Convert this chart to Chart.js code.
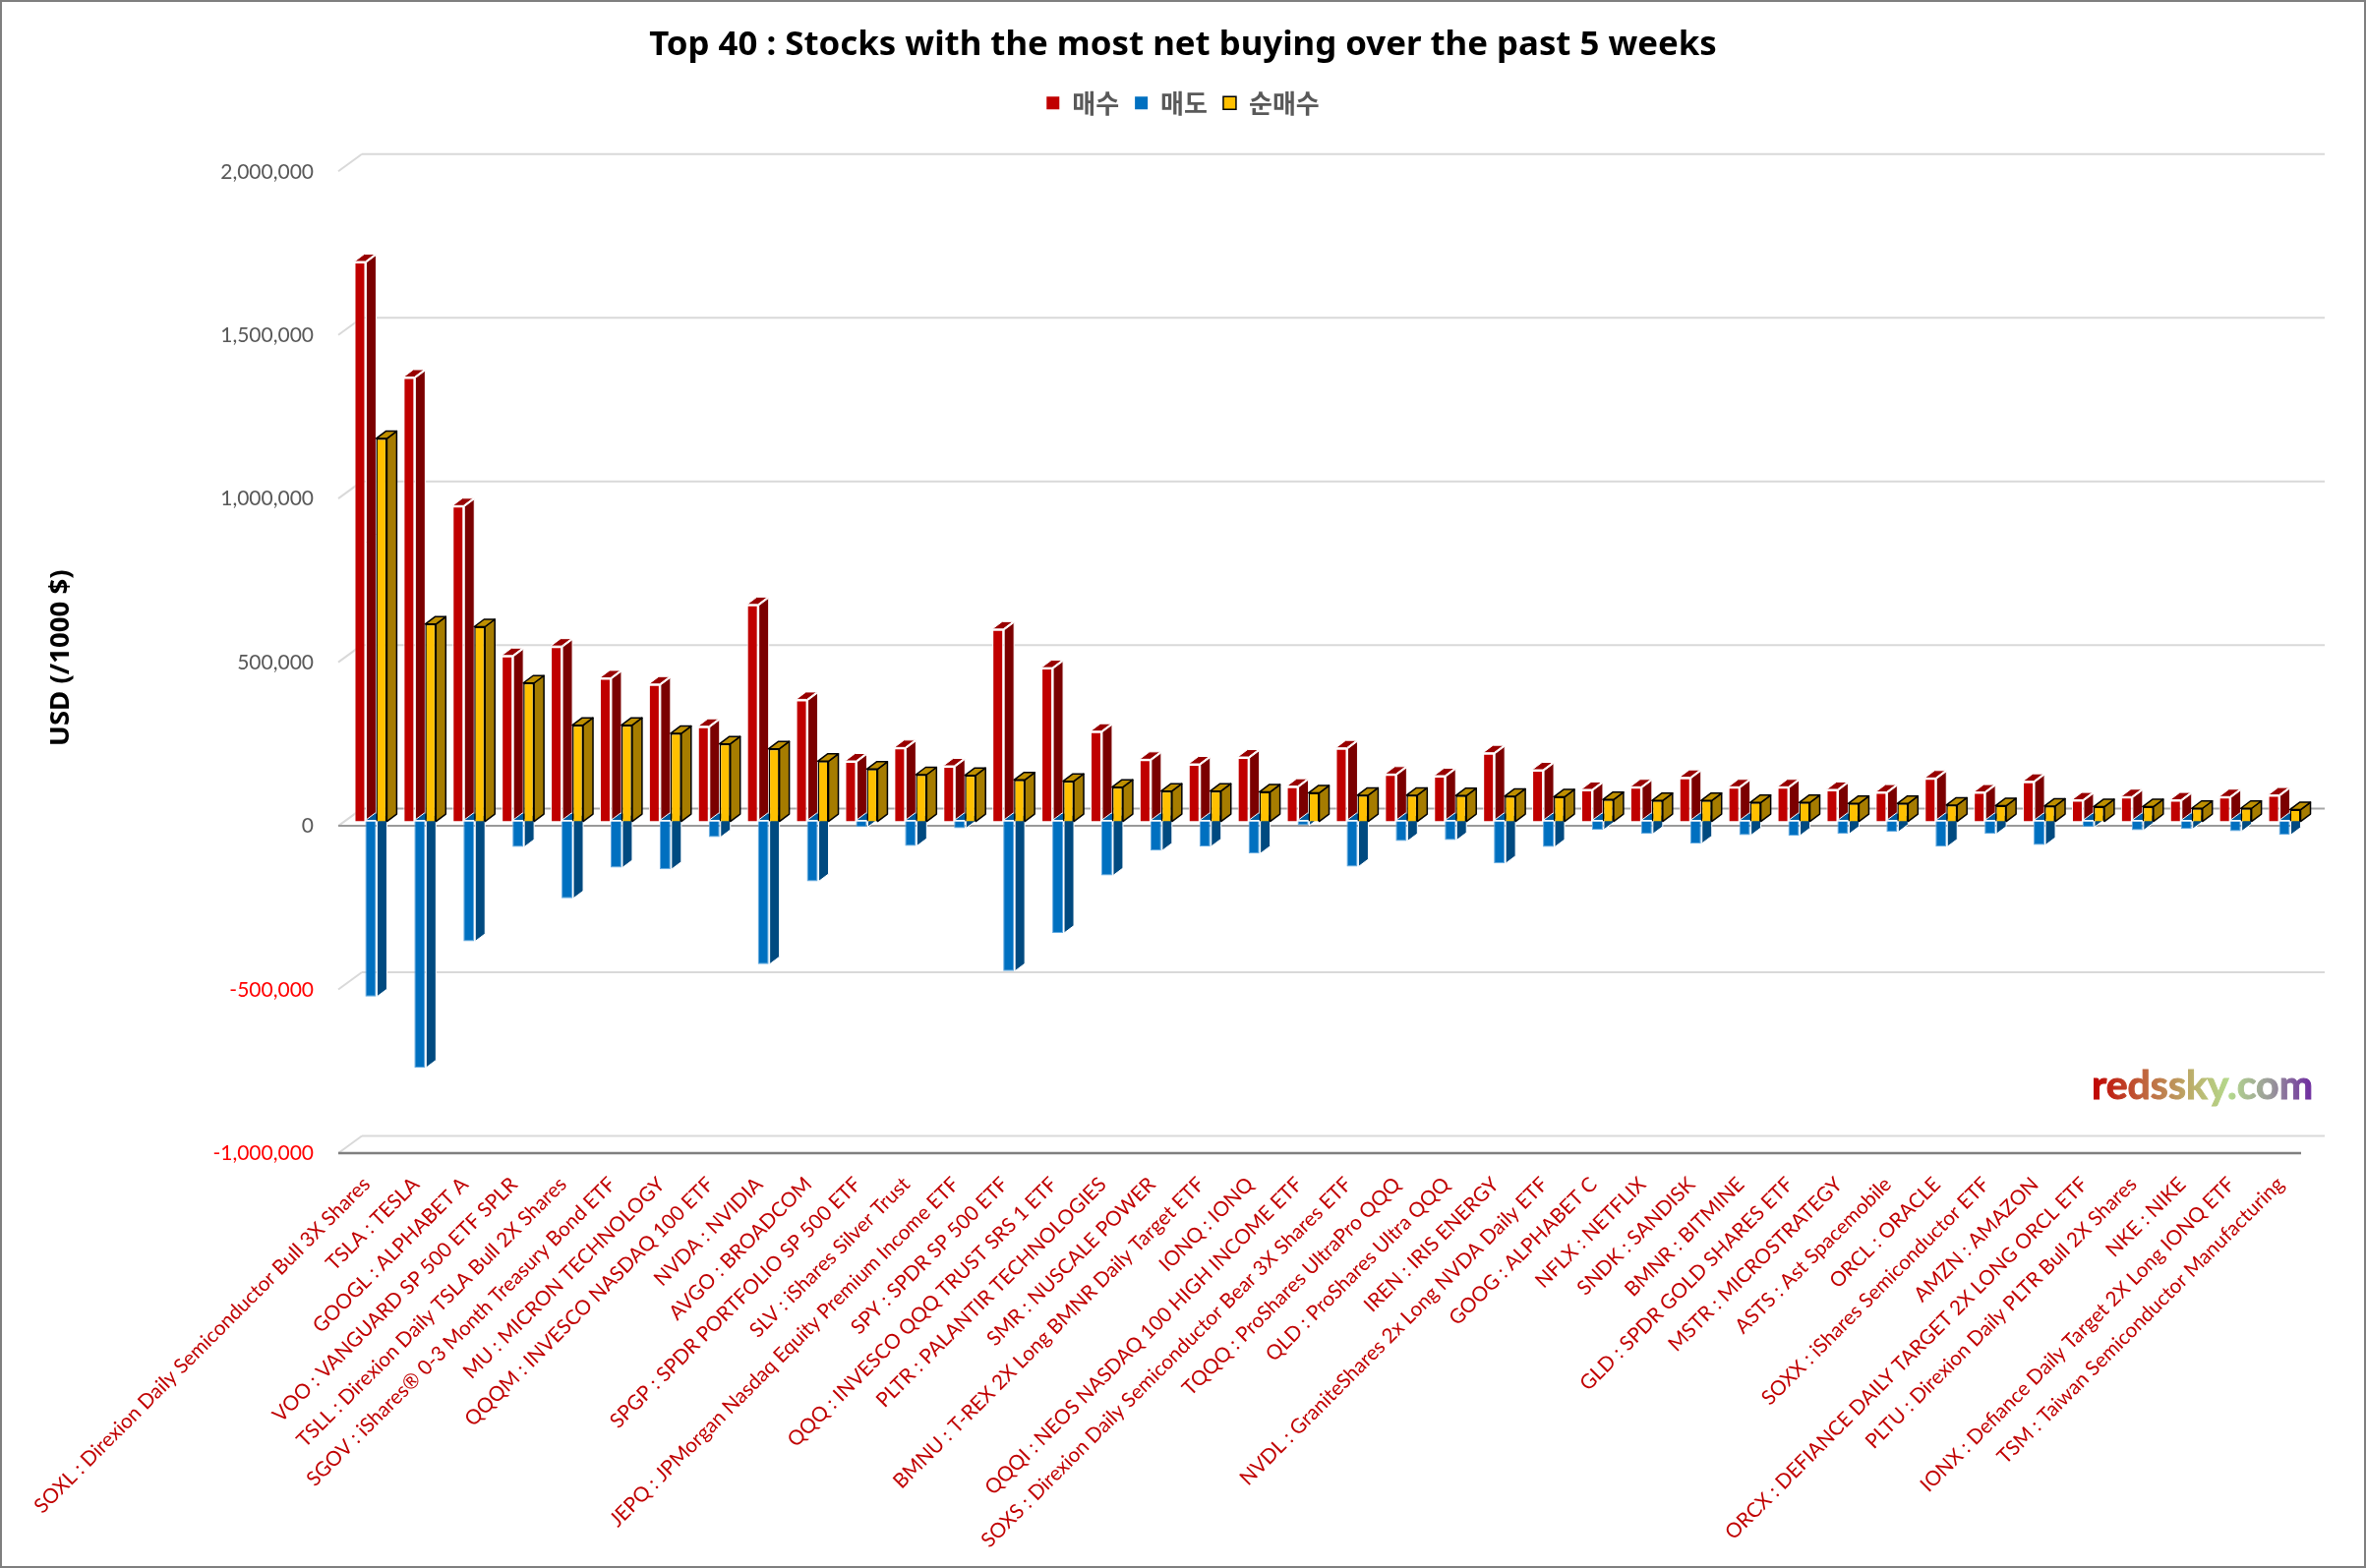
<!DOCTYPE html>
<html lang="ko">
<head>
    <meta charset="UTF-8">
    <title>Top 40 : Stocks with the most net buying over the past 5 weeks</title>
    <script src="https://cdn.jsdelivr.net/npm/chart.js"></script>
    <style>
        * { margin: 0; padding: 0; box-sizing: border-box; }
        body { background: #fff; overflow: hidden; }
        canvas { display: block; }
    </style>
</head>
<body>
    <canvas id="net-buying-chart" width="2406" height="1595"></canvas>

    <script>
        const categories = [
            "SOXL : Direxion Daily Semiconductor Bull 3X Shares", "TSLA : TESLA", "GOOGL : ALPHABET A",
            "VOO : VANGUARD SP 500 ETF SPLR", "TSLL : Direxion Daily TSLA Bull 2X Shares",
            "SGOV : iShares® 0-3 Month Treasury Bond ETF", "MU : MICRON TECHNOLOGY", "QQQM : INVESCO NASDAQ 100 ETF",
            "NVDA : NVIDIA", "AVGO : BROADCOM", "SPGP : SPDR PORTFOLIO SP 500 ETF", "SLV : iShares Silver Trust",
            "JEPQ : JPMorgan Nasdaq Equity Premium Income ETF", "SPY : SPDR SP 500 ETF", "QQQ : INVESCO QQQ TRUST SRS 1 ETF",
            "PLTR : PALANTIR TECHNOLOGIES", "SMR : NUSCALE POWER", "BMNU : T-REX 2X Long BMNR Daily Target ETF",
            "IONQ : IONQ", "QQQI : NEOS NASDAQ 100 HIGH INCOME ETF", "SOXS : Direxion Daily Semiconductor Bear 3X Shares ETF",
            "TQQQ : ProShares UltraPro QQQ", "QLD : ProShares Ultra QQQ", "IREN : IRIS ENERGY",
            "NVDL : GraniteShares 2x Long NVDA Daily ETF", "GOOG : ALPHABET C", "NFLX : NETFLIX", "SNDK : SANDISK",
            "BMNR : BITMINE", "GLD : SPDR GOLD SHARES ETF", "MSTR : MICROSTRATEGY", "ASTS : Ast Spacemobile",
            "ORCL : ORACLE", "SOXX : iShares Semiconductor ETF", "AMZN : AMAZON", "ORCX : DEFIANCE DAILY TARGET 2X LONG ORCL ETF",
            "PLTU : Direxion Daily PLTR Bull 2X Shares", "NKE : NIKE", "IONX : Defiance Daily Target 2X Long IONQ ETF",
            "TSM : Taiwan Semiconductor Manufacturing"
        ];
        const seriesNames = ["매수", "매도", "순매수"];

        // USD / 1000
        const buyValues = [
            1708000, 1355000, 962000, 504000, 533000, 436000, 417000, 288000, 660000, 370000,
            182000, 223000, 167000, 585000, 467000, 273000, 187000, 173000, 194000, 105000,
            222000, 142000, 137000, 207000, 155000, 95000, 103000, 132000, 103000, 103000,
            95000, 87000, 130000, 87000, 120000, 63000, 73000, 63000, 73000, 78000
        ];
        const sellValues = [
            -535000, -752000, -366000, -78000, -235000, -141000, -146000, -48000, -436000, -183000,
            -17000, -75000, -21000, -457000, -341000, -165000, -89000, -76000, -98000, -12000,
            -138000, -60000, -57000, -128000, -78000, -25000, -38000, -67000, -42000, -43000,
            -38000, -32000, -77000, -38000, -72000, -17000, -27000, -23000, -30000, -41000
        ];
        const netValues = [
            1170000, 603000, 595000, 423000, 294000, 294000, 269000, 237000, 222000, 184000,
            160000, 143000, 141000, 127000, 123000, 105000, 93000, 93000, 90000, 87000,
            80000, 80000, 79000, 77000, 75000, 67000, 64000, 64000, 58000, 58000,
            55000, 55000, 50000, 48000, 47000, 45000, 45000, 40000, 40000, 36000
        ];

        const frontColors = ["#C00000", "#0070C0", "#FFC000"];
        const edgeColors = ["#FFFFFF", "#5FA8E0", "#000000"];
        const sideColors = ["#7B0000", "#004A80", "#A67C00"];
        const topColors = ["#990000", "#005C9E", "#BF9000"];

        // fake 3D of the column chart: where the walls and the bar depth sit around the bar plane
        const barDepth = { dx: 10, dy: 7.5 };
        const wallBack = { dx: 16, dy: -13 };
        const wallFront = { dx: -8, dy: 4.5 };

        function line(ctx, x1, y1, x2, y2, color, width) {
            ctx.strokeStyle = color;
            ctx.lineWidth = width;
            ctx.beginPath();
            ctx.moveTo(x1, y1);
            ctx.lineTo(x2, y2);
            ctx.stroke();
        }

        function face(ctx, pts, fill, stroke, width) {
            ctx.beginPath();
            pts.forEach((p, i) => i ? ctx.lineTo(p[0], p[1]) : ctx.moveTo(p[0], p[1]));
            ctx.closePath();
            ctx.fillStyle = fill;
            ctx.fill();
            ctx.strokeStyle = stroke;
            ctx.lineWidth = width;
            ctx.lineJoin = 'round';
            ctx.stroke();
        }

        const pagePlugin = {
            id: 'page',
            beforeLayout(chart) {
                // room between the legend and the top of the plot
                const legend = chart.legend;
                if (legend && !legend.paddedFit) {
                    const fit = legend.fit;
                    legend.fit = function () {
                        fit.call(this);
                        this.height += 42;
                    };
                    legend.paddedFit = true;
                }
            },
            beforeDraw(chart) {
                const ctx = chart.ctx;
                ctx.save();
                ctx.fillStyle = '#FFFFFF';
                ctx.fillRect(0, 0, chart.width, chart.height);
                ctx.strokeStyle = '#7F7F7F';
                ctx.lineWidth = 2;
                ctx.strokeRect(1, 1, chart.width - 2, chart.height - 2);
                ctx.restore();
            }
        };

        const wallsPlugin = {
            id: 'walls',
            beforeDatasetsDraw(chart) {
                const ctx = chart.ctx;
                const yScale = chart.scales.y;
                const { left, right } = chart.chartArea;
                ctx.save();
                yScale.ticks.forEach(t => {
                    const y = yScale.getPixelForValue(t.value);
                    const color = t.value === 0 ? '#A6A6A6' : '#D9D9D9';
                    line(ctx, left + wallFront.dx, y + wallFront.dy, left + wallBack.dx, y + wallBack.dy, '#D9D9D9', 2);
                    line(ctx, left + wallBack.dx, y + wallBack.dy, right + wallBack.dx, y + wallBack.dy, color, 2);
                    if (t.value === 0) {
                        line(ctx, left + wallFront.dx, y + wallFront.dy, right + wallFront.dx, y + wallFront.dy, '#999999', 2);
                    }
                    if (t.value === yScale.min) {
                        line(ctx, left + wallFront.dx, y + wallFront.dy, right + wallFront.dx, y + wallFront.dy, '#7F7F7F', 2.5);
                    }
                });
                ctx.restore();
            }
        };

        // Chart.js paints dataset 0 last and places bars by the same order, so the bars are
        // painted here instead: red, blue, gold, each with its side and top faces under it
        const depthPlugin = {
            id: 'depth',
            beforeDatasetDraw() {
                return false;
            },
            afterDatasetsDraw(chart) {
                const ctx = chart.ctx;
                const { dx, dy } = barDepth;
                ctx.save();
                [0, 1, 2].forEach(i => {
                    const isGold = i === 2;
                    const stroke = isGold ? '#000000' : '#FFFFFF';
                    const sw = isGold ? 1.5 : 1;
                    const gap = isGold ? 0 : 1;
                    chart.getDatasetMeta(i).data.forEach(bar => {
                        const p = bar.getProps(['x', 'y', 'base', 'width'], true);
                        const l = p.x - p.width / 2;
                        const r = p.x + p.width / 2;
                        const top = Math.min(p.y, p.base);
                        const bottom = Math.max(p.y, p.base);
                        face(ctx, [[r + gap, bottom], [r + gap + dx, bottom - dy], [r + gap + dx, top - dy], [r + gap, top]], sideColors[i], stroke, sw);
                        face(ctx, [[l, top - gap], [l + dx, top - gap - dy], [r + dx, top - gap - dy], [r, top - gap]], topColors[i], stroke, sw);
                        bar.draw(ctx);
                    });
                });
                ctx.restore();
            }
        };

        const watermarkPlugin = {
            id: 'watermark',
            afterDraw(chart) {
                const ctx = chart.ctx;
                const x = 2127, w = 233, y = 1118;
                const g = ctx.createLinearGradient(x, 0, x + w, 0);
                g.addColorStop(0, '#C00000');
                g.addColorStop(0.22, '#C0603A');
                g.addColorStop(0.45, '#BCB46E');
                g.addColorStop(0.6, '#B4D98C');
                g.addColorStop(0.78, '#9A9A9A');
                g.addColorStop(0.95, '#7030A0');
                ctx.save();
                ctx.font = 'bold 41px Lato';
                ctx.fillStyle = g;
                ctx.strokeStyle = g;
                ctx.lineWidth = 1;
                ctx.textAlign = 'left';
                ctx.textBaseline = 'alphabetic';
                ctx.fillText('redssky.com', x, y, w);
                ctx.strokeText('redssky.com', x, y, w);
                ctx.restore();
            }
        };

        new Chart(document.getElementById('net-buying-chart').getContext('2d'), {
            type: 'bar',
            data: {
                labels: categories,
                datasets: [
                    { label: seriesNames[0], data: buyValues, backgroundColor: frontColors[0], borderColor: edgeColors[0], borderWidth: 1 },
                    { label: seriesNames[1], data: sellValues, backgroundColor: frontColors[1], borderColor: edgeColors[1], borderWidth: 1 },
                    { label: seriesNames[2], data: netValues, backgroundColor: frontColors[2], borderColor: edgeColors[2], borderWidth: 1.5 }
                ]
            },
            options: {
                responsive: false,
                devicePixelRatio: 1,
                animation: false,
                categoryPercentage: 0.66,
                barPercentage: 1,
                layout: { autoPadding: false },
                plugins: {
                    title: {
                        display: true,
                        text: 'Top 40 : Stocks with the most net buying over the past 5 weeks',
                        color: '#000000',
                        font: { family: '"Noto Sans"', size: 34.8, weight: 'bold' },
                        padding: { top: 25, bottom: 9 }
                    },
                    legend: {
                        position: 'top',
                        labels: {
                            color: '#595959',
                            font: { family: '"Noto Sans CJK KR"', size: 26, weight: 'bold' },
                            boxWidth: 13,
                            boxHeight: 13,
                            padding: 16,
                            generateLabels(chart) {
                                const items = Chart.defaults.plugins.legend.labels.generateLabels(chart);
                                items.forEach((item, i) => { if (i < 2) item.lineWidth = 0; });
                                return items;
                            }
                        }
                    },
                    tooltip: { enabled: false }
                },
                scales: {
                    x: {
                        grid: { display: false },
                        border: { display: false },
                        ticks: {
                            autoSkip: false,
                            minRotation: 45,
                            maxRotation: 45,
                            padding: 16,
                            labelOffset: -4,
                            color: '#C00000',
                            font: { family: 'Lato', size: 20.7 }
                        },
                        afterFit(scale) { scale.height = 426.5; }
                    },
                    y: {
                        min: -1000000,
                        max: 2000000,
                        grid: { display: false, drawTicks: false },
                        border: { display: false },
                        ticks: {
                            stepSize: 500000,
                            padding: 33,
                            labelOffset: 5,
                            color: ctx => ctx.tick.value < 0 ? '#FF0000' : '#595959',
                            font: { family: 'Lato', size: 21 },
                            callback: v => v.toLocaleString('en-US')
                        },
                        title: {
                            display: true,
                            text: 'USD (/1000 $)',
                            color: '#000000',
                            font: { family: '"Noto Sans"', size: 27.6, weight: 'bold' },
                            padding: { top: 46, bottom: 0 }
                        },
                        afterFit(scale) { scale.width = 352; }
                    },
                    // empty axis, only keeps the plot clear of the right edge so title and legend stay centred on the page
                    yRight: {
                        position: 'right',
                        display: true,
                        grid: { display: false, drawTicks: false },
                        border: { display: false },
                        ticks: { display: false },
                        afterFit(scale) { scale.width = 58; }
                    }
                }
            },
            plugins: [pagePlugin, wallsPlugin, depthPlugin, watermarkPlugin]
        });
    </script>
</body>
</html>
